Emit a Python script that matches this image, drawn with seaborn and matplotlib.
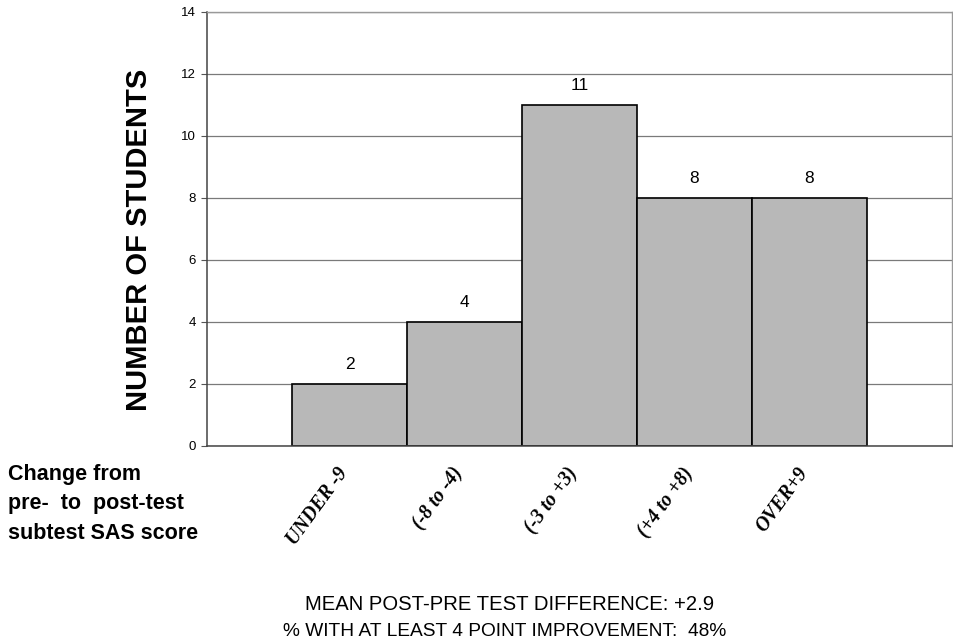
import matplotlib
matplotlib.use("Agg")
import matplotlib.pyplot as plt
import matplotlib.transforms as mtransforms
import seaborn as sns
import pandas as pd

categories = ["UNDER -9", "(-8 to -4)", "(-3 to +3)", "(+4 to +8)", "OVER+9"]
counts = [2, 4, 11, 8, 8]
y_ticks = [0, 2, 4, 6, 8, 10, 12, 14]
y_label = "NUMBER OF STUDENTS"
x_note = "Change from\npre-  to  post-test\nsubtest SAS score"
footer_lines = ["MEAN POST-PRE TEST DIFFERENCE: +2.9",
                "% WITH AT LEAST 4 POINT IMPROVEMENT:  48%"]

sns.set_style("white")
plt.rcParams['font.family'] = ['Liberation Sans', 'DejaVu Sans']
for k in ["text.color", "axes.labelcolor", "xtick.color", "ytick.color"]:
    plt.rcParams[k] = "black"

df = pd.DataFrame({"cat": categories, "n": counts})

fig = plt.figure(figsize=(9.54, 6.42), dpi=100)
ax = fig.add_axes([207/954, 1-446/642, (952-207)/954, (446-12)/642])

sns.barplot(data=df, x="cat", y="n", order=categories, color="#b8b8b8",
            saturation=1, width=1.0, edgecolor="black", linewidth=1.2, ax=ax)

ax.set_xlim(-1.239, 5.239)
ax.set_ylim(0, 14)
ax.set_yticks(y_ticks)
ax.set_yticklabels([str(t) for t in y_ticks], fontsize=9.5)
ax.set_axisbelow(True)
ax.yaxis.grid(True, color="#7a7a7a", linewidth=0.9)
ax.xaxis.grid(False)
ax.tick_params(axis="y", which="both", left=True, length=4, width=0.8,
               color="#555555", pad=4)
ax.tick_params(axis="x", bottom=False, pad=12)

for s in ["left", "bottom"]:
    ax.spines[s].set_color("#444444")
    ax.spines[s].set_linewidth(1.1)
for s in ["top", "right"]:
    ax.spines[s].set_color("#999999")
    ax.spines[s].set_linewidth(1.0)
    ax.spines[s].set_visible(True)

ax.set_xlabel("")
ax.set_ylabel("")

ax.set_xticks(range(len(categories)))
ax.set_xticklabels(categories, rotation=54, ha="right", va="center",
                   rotation_mode="anchor", fontsize=14.2,
                   family="Liberation Serif", fontweight="bold", style="italic")
offset = mtransforms.ScaledTranslation(-5/100, -2/100, fig.dpi_scale_trans)
for lbl in ax.get_xticklabels():
    lbl.set_transform(lbl.get_transform() + offset)

for i, v in enumerate(counts):
    ax.annotate(str(v), (i, v), xytext=(0, 14), textcoords="offset points",
                ha="center", va="center", fontsize=12.5)

fig.text(139/954, 1-240/642, y_label, rotation=90, fontsize=21,
         fontweight="bold", ha="center", va="center")

fig.text(8/954, 1-504/642, x_note, fontsize=15.5, fontweight="bold",
         ha="left", va="center", linespacing=1.55)

fig.text(510/954, 1-604/642, footer_lines[0], fontsize=14.6, ha="center", va="center")
fig.text(505/954, 1-631/642, footer_lines[1], fontsize=13.8, ha="center", va="center")

fig.savefig("out.png", dpi=100)
